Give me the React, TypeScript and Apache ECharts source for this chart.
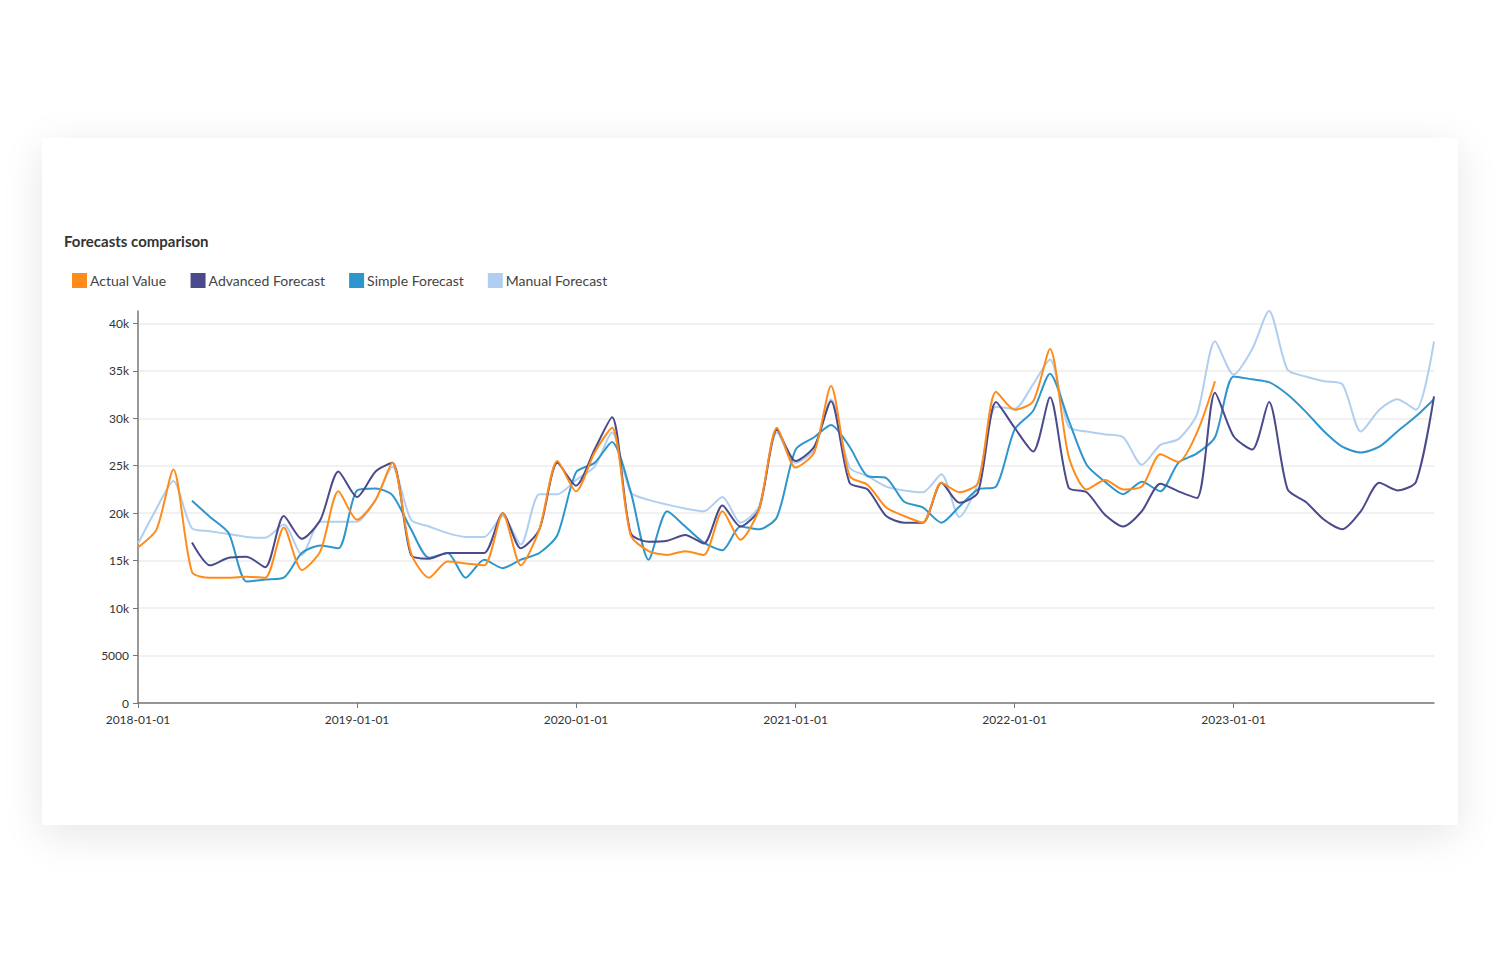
import React, { useEffect, useRef } from "react";
import * as echarts from "echarts";

const START_YEAR = 2018;
const MONTH_COUNT = 72;
const MONTHS: string[] = Array.from({ length: MONTH_COUNT }, (_, i) => {
  const y = START_YEAR + Math.floor(i / 12);
  const m = (i % 12) + 1;
  return `${y}-${String(m).padStart(2, "0")}-01`;
});

const SERIES_NAMES = ["Actual Value", "Advanced Forecast", "Simple Forecast", "Manual Forecast"];
const COLORS = ["#ff8c1a", "#4a4a8c", "#2e96cc", "#b0cff0"];

// values in thousands; null = no data for that month
const actualValue: (number | null)[] = [
  16.4, 18.3, 24.6, 13.8, 13.2, 13.2, 13.3, 13.2, 18.5, 14.0, 16.0, 22.3,
  19.3, 21.4, 25.3, 15.8, 13.2, 14.9, 14.7, 14.5, 20.0, 14.5, 18.3, 25.5,
  22.3, 26.4, 29.0, 17.7, 16.0, 15.6, 16.0, 15.6, 20.2, 17.2, 20.4, 29.0,
  24.8, 26.4, 33.4, 23.9, 23.0, 20.6, 19.7, 19.0, 23.2, 22.2, 23.2, 32.8,
  30.9, 31.8, 37.3, 26.0, 22.5, 23.5, 22.5, 22.8, 26.2, 25.4, 28.5, 33.9,
  null, null, null, null, null, null, null, null, null, null, null, null,
];

const advancedForecast: (number | null)[] = [
  null, null, null, 16.9, 14.5, 15.3, 15.4, 14.3, 19.7, 17.3, 19.3, 24.4,
  21.7, 24.4, 25.3, 15.6, 15.2, 15.8, 15.8, 15.8, 20.0, 16.3, 18.3, 25.3,
  22.9, 26.7, 30.1, 17.9, 17.0, 17.1, 17.7, 16.8, 20.8, 18.6, 20.4, 28.8,
  25.5, 27.0, 31.8, 23.2, 22.5, 19.7, 19.0, 19.0, 23.2, 21.1, 22.2, 31.7,
  29.0, 26.5, 32.2, 22.7, 22.2, 19.8, 18.6, 20.2, 23.1, 22.3, 21.6, 32.7,
  28.1, 26.7, 31.7, 22.5, 21.2, 19.3, 18.3, 20.2, 23.2, 22.4, 23.3, 32.3,
];

const simpleForecast: (number | null)[] = [
  null, null, null, 21.3, 19.6, 17.9, 12.8, 13.0, 13.2, 15.8, 16.6, 16.3,
  22.4, 22.6, 21.9, 18.3, 15.3, 15.8, 13.2, 15.1, 14.2, 15.1, 15.8, 17.7,
  24.3, 25.3, 27.5, 22.3, 15.1, 20.2, 18.6, 16.9, 16.1, 18.6, 18.3, 19.6,
  26.7, 28.0, 29.3, 27.0, 23.9, 23.7, 21.2, 20.6, 19.0, 20.7, 22.5, 22.8,
  28.8, 30.8, 34.7, 29.8, 25.1, 23.3, 22.0, 23.3, 22.3, 25.3, 26.3, 28.0,
  34.4, 34.1, 33.8, 32.5, 30.7, 28.6, 27.0, 26.4, 27.0, 28.6, 30.2, 32.0,
];

const manualForecast: (number | null)[] = [
  16.8, 20.5, 23.4, 18.4, 18.1, 17.8, 17.5, 17.4, 18.8, 15.6, 19.1, 19.1,
  19.1, 21.4, 24.9, 19.3, 18.6, 17.9, 17.5, 17.5, 19.7, 16.7, 22.0, 22.0,
  23.5, 24.9, 28.5, 22.2, 21.4, 20.9, 20.5, 20.2, 21.7, 19.0, 20.7, 28.5,
  25.3, 26.7, 32.0, 24.8, 23.9, 22.8, 22.4, 22.2, 24.1, 19.6, 23.2, 31.2,
  31.0, 33.6, 36.2, 29.1, 28.6, 28.3, 28.0, 25.1, 27.2, 27.8, 30.4, 38.1,
  34.6, 37.3, 41.3, 35.1, 34.4, 33.9, 33.6, 28.6, 30.9, 32.0, 30.9, 38.1,
];

const SERIES_VALUES = [actualValue, advancedForecast, simpleForecast, manualForecast];

const FONT = "'Source Sans Pro', Lato, 'Noto Sans', sans-serif";

function toPairs(vals: (number | null)[]) {
  const out: [string, number][] = [];
  vals.forEach((v, i) => {
    if (v !== null) out.push([MONTHS[i], Math.round(v * 1000)]);
  });
  return out;
}

export default function App() {
  const ref = useRef<HTMLDivElement>(null);

  useEffect(() => {
    if (!ref.current) return;
    const chart = echarts.init(ref.current, undefined, { renderer: "svg" });
    const YEAR = 365 * 24 * 3600 * 1000;
    chart.setOption({
      animation: false,
      textStyle: { fontFamily: FONT },
      title: {
        text: "Forecasts comparison",
        left: 22,
        top: 95,
        padding: 0,
        textStyle: { fontSize: 15, fontWeight: "bold", color: "#333", fontFamily: FONT },
      },
      legend: {
        left: 30,
        top: 135,
        padding: 0,
        icon: "rect",
        itemWidth: 15,
        itemHeight: 15,
        itemGap: 24,
        textStyle: { fontSize: 14, color: "#444", fontFamily: FONT, padding: [0, 0, 0, -2] },
        data: SERIES_NAMES,
      },
      grid: { left: 96, right: 24, top: 173, bottom: 122, containLabel: false },
      xAxis: {
        type: "time",
        min: MONTHS[0],
        max: MONTHS[MONTH_COUNT - 1],
        minInterval: YEAR,
        maxInterval: YEAR + 24 * 3600 * 1000,
        axisLine: { show: true, lineStyle: { color: "#777", width: 1.5 } },
        axisTick: { show: true, length: 5, lineStyle: { color: "#777" } },
        axisLabel: {
          formatter: "{yyyy}-{MM}-{dd}",
          color: "#333",
          fontSize: 12,
          fontFamily: FONT,
          margin: 10,
          showMaxLabel: false,
        },
        splitLine: { show: false },
      },
      yAxis: {
        type: "value",
        min: 0,
        max: "dataMax",
        interval: 5000,
        axisLine: { show: true, lineStyle: { color: "#777", width: 1.5 } },
        axisTick: { show: true, length: 5, lineStyle: { color: "#777" } },
        axisLabel: {
          color: "#333",
          fontSize: 12,
          fontFamily: FONT,
          margin: 9,
          showMaxLabel: false,
          formatter: (v: number) => (v >= 10000 ? `${v / 1000}k` : `${v}`),
        },
        splitLine: { show: true, showMaxLine: false, lineStyle: { color: "#ececec", width: 1.5 } },
      },
      series: SERIES_NAMES.map((name, idx) => ({
        name,
        type: "line",
        data: toPairs(SERIES_VALUES[idx]),
        showSymbol: false,
        symbol: "none",
        smooth: 0.25,
        color: COLORS[idx],
        lineStyle: { width: 2, color: COLORS[idx] },
        z: 10 - idx,
      })),
    });
    return () => chart.dispose();
  }, []);

  return (
    <div style={{ position: "fixed", left: 0, top: 0, width: 1500, height: 960, background: "#fff" }}>
      <div
        style={{
          position: "absolute",
          left: 42,
          top: 138,
          width: 1416,
          height: 687,
          background: "#fff",
          boxShadow: "0 10px 40px rgba(0,0,0,0.10)",
        }}
      >
        <div ref={ref} style={{ width: 1416, height: 687 }} />
      </div>
    </div>
  );
}
